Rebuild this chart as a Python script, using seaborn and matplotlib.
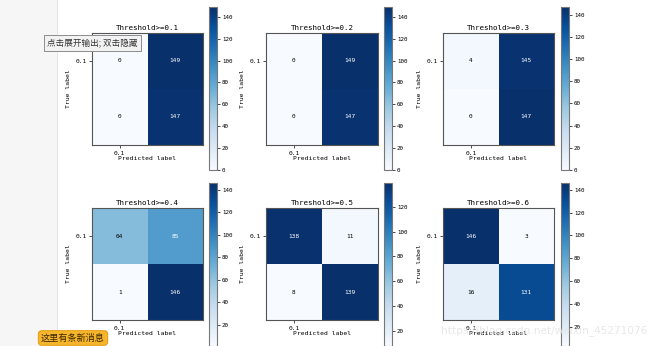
import numpy as np
import pandas as pd
import matplotlib
matplotlib.use("Agg")
import matplotlib.pyplot as plt
from matplotlib.patches import Rectangle
import seaborn as sns

# ---- data ----
thresholds = ["0.1", "0.2", "0.3", "0.4", "0.5", "0.6"]
cm_01 = [[0, 149], [0, 147]]
cm_02 = [[0, 149], [0, 147]]
cm_03 = [[4, 145], [0, 147]]
cm_04 = [[64, 85], [1, 146]]
cm_05 = [[138, 11], [8, 139]]
cm_06 = [[146, 3], [16, 131]]
matrices = [cm_01, cm_02, cm_03, cm_04, cm_05, cm_06]
class_labels = ["0.1"]

plt.rcParams['font.family'] = ['DejaVu Sans Mono', 'Noto Sans CJK SC']

W, H = 650, 346
fig = plt.figure(figsize=(W / 100, H / 100), dpi=100)


def rect(x0, y0, x1, y1):
    return [x0 / W, 1 - y1 / H, (x1 - x0) / W, (y1 - y0) / H]


# left notebook gutter
fig.patches.append(Rectangle((0, 0), 57 / W, 1, transform=fig.transFigure,
                             facecolor='#f6f6f6', edgecolor='none', zorder=0))
fig.patches.append(Rectangle((57 / W, 0), 0.6 / W, 1, transform=fig.transFigure,
                             facecolor='#e6e6e6', edgecolor='none', zorder=0))

col_x = [(92, 203), (266, 378), (443, 554)]
cb_x = [(209, 217), (384, 392), (561, 569)]
row_y = [(33, 145), (208, 320)]
cb_y = [(7, 170), (183, 346)]

for k, (thr, cm) in enumerate(zip(thresholds, matrices)):
    r, c = divmod(k, 3)
    ax = fig.add_axes(rect(col_x[c][0], row_y[r][0], col_x[c][1], row_y[r][1]))
    cax = fig.add_axes(rect(cb_x[c][0], cb_y[r][0], cb_x[c][1], cb_y[r][1]))
    arr = np.array(cm)
    df = pd.DataFrame(arr)
    sns.heatmap(df, cmap='Blues', annot=True, fmt='d', ax=ax, cbar_ax=cax,
                xticklabels=False, yticklabels=False,
                annot_kws={'fontsize': 4.4})
    thresh = arr.max() / 2.0
    for t in ax.texts:
        v = int(t.get_text())
        t.set_color('white' if v > thresh else 'black')
    ax.set_xticks([0.5])
    ax.set_xticklabels(class_labels, fontsize=4.5)
    ax.set_yticks([0.5])
    ax.set_yticklabels(class_labels, fontsize=4.5, rotation=0)
    ax.tick_params(length=2.5, width=0.6, pad=1.5, color='#333333')
    for s in ax.spines.values():
        s.set_visible(True)
        s.set_color('#555555')
        s.set_linewidth(0.8)
    ax.set_title('Threshold>=' + thr, fontsize=5.4, pad=2)
    ax.set_xlabel('Predicted label', fontsize=4.6, labelpad=0.5)
    ax.set_ylabel('True label', fontsize=4.6, labelpad=3)
    cb = ax.collections[0].colorbar
    cb.outline.set_linewidth(0.8)
    cb.outline.set_edgecolor('#777777')
    cax.tick_params(labelsize=4.2, length=2, width=0.5, pad=1.5)

# overlays from the notebook page
fig.text(47 / W, 1 - 43 / H, '点击展开输出; 双击隐藏', fontsize=6.2, color='#333333',
         va='center', ha='left', family=['Noto Sans CJK SC', 'DejaVu Sans'],
         bbox=dict(boxstyle='square,pad=0.35', fc='#f2f2f2', ec='#8c8c8c', lw=0.7),
         zorder=10)
fig.text(73 / W, 1 - 338 / H, '这里有条新消息', fontsize=6.6, color='#3a2600',
         va='center', ha='center', family=['Noto Sans CJK SC', 'DejaVu Sans'],
         bbox=dict(boxstyle='round,pad=0.3,rounding_size=0.4', fc='#f6b52a',
                   ec='#e39c12', lw=0.7),
         zorder=10)
fig.text(441 / W, 1 - 331 / H, 'https://blog.csdn.net/weixin_45271076', fontsize=7.6,
         color='#e4e4e4', alpha=0.85, va='center', ha='left',
         family=['DejaVu Sans'], zorder=10)

fig.savefig('out.png', dpi=100)
